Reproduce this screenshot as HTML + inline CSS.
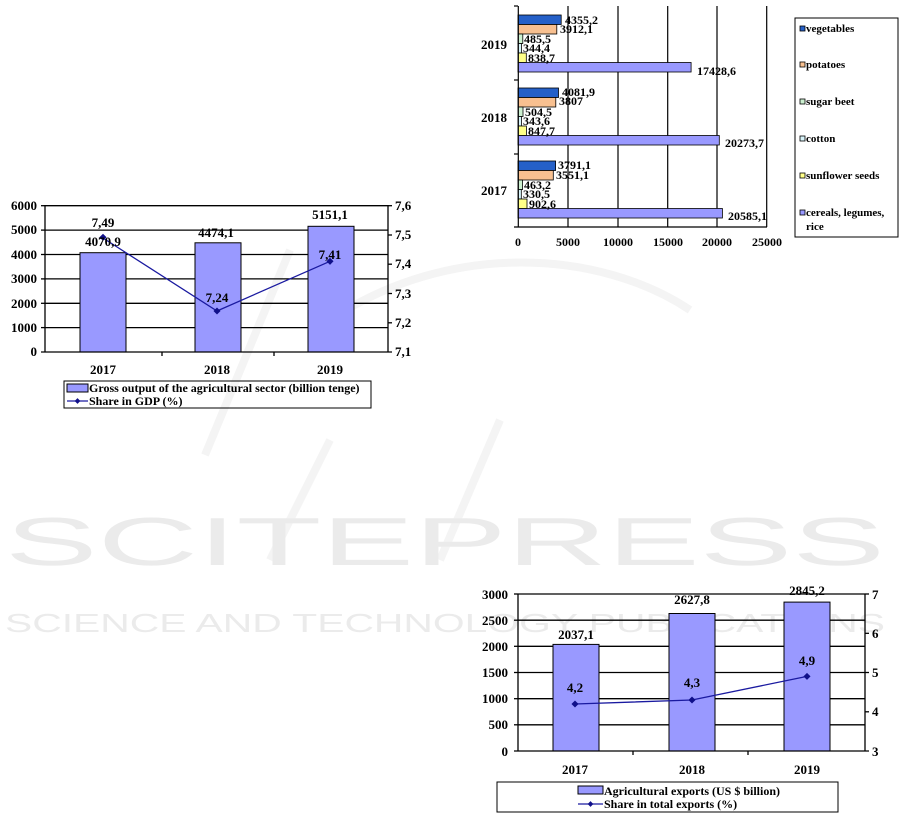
<!DOCTYPE html>
<html><head><meta charset="utf-8"><style>
html,body{margin:0;padding:0;background:#fff;}
svg{display:block;}
text{font-family:"Liberation Serif",serif;font-weight:bold;fill:#000;}
.wm{font-family:"Liberation Sans",sans-serif;font-weight:normal;fill:#ebebeb;}
</style></head><body>
<svg width="901" height="816" viewBox="0 0 901 816" xmlns="http://www.w3.org/2000/svg">
<g>
<path d="M205,455 L290,250 M270,560 L330,440 M500,420 L440,560 M690,310 C600,250 450,240 330,320" stroke="#f4f4f4" stroke-width="8" fill="none"/>
<text class="wm" x="5" y="565" font-size="68" textLength="880" lengthAdjust="spacingAndGlyphs">SCITEPRESS</text>
<text class="wm" x="5" y="632" font-size="26" textLength="880" lengthAdjust="spacingAndGlyphs">SCIENCE AND TECHNOLOGY PUBLICATIONS</text>
</g>

<!-- Chart 1 -->
<g font-size="13">
<g stroke="#000" stroke-width="1.3">
<line x1="45" y1="205.7" x2="388" y2="205.7"/>
<line x1="45" y1="230.1" x2="388" y2="230.1"/>
<line x1="45" y1="254.5" x2="388" y2="254.5"/>
<line x1="45" y1="278.9" x2="388" y2="278.9"/>
<line x1="45" y1="303.3" x2="388" y2="303.3"/>
<line x1="45" y1="327.6" x2="388" y2="327.6"/>
</g>
<g fill="#9999ff" stroke="#000" stroke-width="1">
<rect x="80" y="252.7" width="46" height="99.3"/>
<rect x="195" y="242.8" width="46" height="109.2"/>
<rect x="308" y="226.3" width="46" height="125.7"/>
</g>
<g stroke="#000" stroke-width="1.3">
<line x1="45" y1="205" x2="45" y2="352"/>
<line x1="388" y1="205" x2="388" y2="352"/>
<line x1="41" y1="352" x2="392" y2="352"/>
<line x1="41" y1="205.7" x2="45" y2="205.7"/><line x1="41" y1="230.1" x2="45" y2="230.1"/><line x1="41" y1="254.5" x2="45" y2="254.5"/><line x1="41" y1="278.9" x2="45" y2="278.9"/><line x1="41" y1="303.3" x2="45" y2="303.3"/><line x1="41" y1="327.6" x2="45" y2="327.6"/>
<line x1="388" y1="205.7" x2="392" y2="205.7"/><line x1="388" y1="235" x2="392" y2="235"/><line x1="388" y1="264.2" x2="392" y2="264.2"/><line x1="388" y1="293.5" x2="392" y2="293.5"/><line x1="388" y1="322.8" x2="392" y2="322.8"/>
<line x1="162" y1="352" x2="162" y2="356"/><line x1="274" y1="352" x2="274" y2="356"/>
</g>
<polyline points="103,238 217,311 330,261.3" fill="none" stroke="#1a1aa0" stroke-width="1.3"/>
<g fill="#10108a"><rect x="100" y="235" width="5" height="5" transform="rotate(45 103 238)"/><rect x="214.5" y="308.5" width="5" height="5" transform="rotate(45 217 311)"/><rect x="327.5" y="258.8" width="5" height="5" transform="rotate(45 330 261.3)"/></g>
<g text-anchor="end">
<text x="37" y="210">6000</text><text x="37" y="234">5000</text><text x="37" y="259">4000</text><text x="37" y="283">3000</text><text x="37" y="308">2000</text><text x="37" y="332">1000</text><text x="37" y="356">0</text>
</g>
<text x="395" y="210">7,6</text><text x="395" y="239">7,5</text><text x="395" y="268">7,4</text><text x="395" y="298">7,3</text><text x="395" y="327">7,2</text><text x="395" y="356">7,1</text>
<g text-anchor="middle">
<text x="103" y="227">7,49</text><text x="103" y="246">4070,9</text><text x="216" y="237">4474,1</text><text x="330" y="219">5151,1</text>
<text x="217" y="302">7,24</text><text x="330" y="259">7,41</text>
<text x="103" y="374">2017</text><text x="217" y="374">2018</text><text x="330" y="374">2019</text>
</g>
<rect x="64" y="381" width="307" height="27" fill="none" stroke="#000" stroke-width="1"/>
<rect x="67" y="384" width="21" height="8" fill="#9999ff" stroke="#000" stroke-width="1"/>
<text x="89" y="392" font-size="12">Gross output of the agricultural sector (billion tenge)</text>
<line x1="67" y1="401" x2="88" y2="401" stroke="#1a1aa0" stroke-width="1.3"/>
<rect x="75.5" y="399" width="4" height="4" fill="#10108a" transform="rotate(45 77.5 401)"/>
<text x="89" y="405" font-size="12">Share in GDP (%)</text>
</g>

<!-- Chart 2 -->
<g font-size="12">
<g stroke="#000" stroke-width="1.2">
<line x1="568" y1="6" x2="568" y2="227"/><line x1="618" y1="6" x2="618" y2="227"/><line x1="667.7" y1="6" x2="667.7" y2="227"/><line x1="717" y1="6" x2="717" y2="227"/><line x1="766.7" y1="6" x2="766.7" y2="227"/>
</g>
<g stroke="#000" stroke-width="0.8">
<rect x="518" y="15" width="43.2" height="9.5" fill="#2560c8"/>
<rect x="518" y="24.5" width="38.8" height="9.5" fill="#f8c090"/>
<rect x="518" y="34" width="4.8" height="9.5" fill="#ccf0d0"/>
<rect x="518" y="43.5" width="3.4" height="9.5" fill="#d8f4fa"/>
<rect x="518" y="53" width="8.3" height="9.5" fill="#ffff88"/>
<rect x="518" y="62.5" width="173.1" height="9.5" fill="#9999ff"/>
<rect x="518" y="88" width="40.5" height="9.5" fill="#2560c8"/>
<rect x="518" y="97.5" width="37.8" height="9.5" fill="#f8c090"/>
<rect x="518" y="107" width="5" height="9.5" fill="#ccf0d0"/>
<rect x="518" y="116.5" width="3.4" height="9.5" fill="#d8f4fa"/>
<rect x="518" y="126" width="8.4" height="9.5" fill="#ffff88"/>
<rect x="518" y="135.5" width="201.3" height="9.5" fill="#9999ff"/>
<rect x="518" y="161" width="37.6" height="9.5" fill="#2560c8"/>
<rect x="518" y="170.5" width="35.3" height="9.5" fill="#f8c090"/>
<rect x="518" y="180" width="4.6" height="9.5" fill="#ccf0d0"/>
<rect x="518" y="189.5" width="3.3" height="9.5" fill="#d8f4fa"/>
<rect x="518" y="199" width="9" height="9.5" fill="#ffff88"/>
<rect x="518" y="208.5" width="204.4" height="9.5" fill="#9999ff"/>
</g>
<g stroke="#000" stroke-width="1.2">
<line x1="518.3" y1="6" x2="518.3" y2="227"/>
<line x1="514" y1="227" x2="767" y2="227"/>
<line x1="514" y1="6" x2="518" y2="6"/><line x1="514" y1="80" x2="518" y2="80"/><line x1="514" y1="154" x2="518" y2="154"/>
</g>
<g>
<text x="565" y="24">4355,2</text><text x="560" y="33">3912,1</text><text x="524" y="43">485,5</text><text x="523" y="52">344,4</text><text x="528" y="62">838,7</text><text x="697" y="75">17428,6</text>
<text x="562" y="96">4081,9</text><text x="559" y="105">3807</text><text x="525" y="116">504,5</text><text x="523" y="125">343,6</text><text x="528" y="135">847,7</text><text x="725" y="147">20273,7</text>
<text x="558" y="169">3791,1</text><text x="556" y="179">3551,1</text><text x="524" y="189">463,2</text><text x="523" y="198">330,5</text><text x="529" y="208">902,6</text><text x="728" y="220">20585,1</text>
</g>
<g text-anchor="end" font-size="13"><text x="507" y="49">2019</text><text x="507" y="122">2018</text><text x="507" y="195">2017</text></g>
<g text-anchor="middle"><text x="518" y="246">0</text><text x="568" y="246">5000</text><text x="618" y="246">10000</text><text x="668" y="246">15000</text><text x="717" y="246">20000</text><text x="767" y="246">25000</text></g>
<rect x="795" y="18" width="103" height="219" fill="none" stroke="#000" stroke-width="1"/>
<g stroke="#000" stroke-width="0.8">
<rect x="800" y="26" width="5" height="5" fill="#2560c8"/>
<rect x="800" y="62" width="5" height="5" fill="#f8c090"/>
<rect x="800" y="99" width="5" height="5" fill="#ccf0d0"/>
<rect x="800" y="136" width="5" height="5" fill="#d8f4fa"/>
<rect x="800" y="173" width="5" height="5" fill="#ffff88"/>
<rect x="800" y="210" width="5" height="5" fill="#9999ff"/>
</g>
<g font-size="11"><text x="806" y="32">vegetables</text><text x="806" y="68">potatoes</text><text x="806" y="105">sugar beet</text><text x="806" y="142">cotton</text><text x="806" y="179">sunflower seeds</text><text x="806" y="216">cereals, legumes,</text><text x="806" y="230">rice</text></g>
</g>

<!-- Chart 3 -->
<g font-size="13">
<g stroke="#000" stroke-width="1.3">
<line x1="518" y1="594" x2="865" y2="594"/>
<line x1="518" y1="620.2" x2="865" y2="620.2"/>
<line x1="518" y1="646.3" x2="865" y2="646.3"/>
<line x1="518" y1="672.5" x2="865" y2="672.5"/>
<line x1="518" y1="698.7" x2="865" y2="698.7"/>
<line x1="518" y1="724.8" x2="865" y2="724.8"/>
</g>
<g fill="#9999ff" stroke="#000" stroke-width="1">
<rect x="553" y="644.4" width="46" height="106.6"/>
<rect x="669" y="613.5" width="46" height="137.5"/>
<rect x="784" y="602.1" width="46" height="148.9"/>
</g>
<g stroke="#000" stroke-width="1.3">
<line x1="518" y1="594" x2="518" y2="751"/>
<line x1="865" y1="594" x2="865" y2="751"/>
<line x1="514" y1="751" x2="869" y2="751"/>
<line x1="514" y1="594" x2="518" y2="594"/><line x1="514" y1="620.2" x2="518" y2="620.2"/><line x1="514" y1="646.3" x2="518" y2="646.3"/><line x1="514" y1="672.5" x2="518" y2="672.5"/><line x1="514" y1="698.7" x2="518" y2="698.7"/><line x1="514" y1="724.8" x2="518" y2="724.8"/>
<line x1="865" y1="594" x2="869" y2="594"/><line x1="865" y1="633.3" x2="869" y2="633.3"/><line x1="865" y1="672.5" x2="869" y2="672.5"/><line x1="865" y1="711.8" x2="869" y2="711.8"/>
<line x1="633" y1="751" x2="633" y2="755"/><line x1="748" y1="751" x2="748" y2="755"/>
</g>
<polyline points="575,704 692,700 807,676.4" fill="none" stroke="#1a1aa0" stroke-width="1.3"/>
<g fill="#10108a"><rect x="572.5" y="701.5" width="5" height="5" transform="rotate(45 575 704)"/><rect x="689.5" y="697.5" width="5" height="5" transform="rotate(45 692 700)"/><rect x="804.5" y="673.9" width="5" height="5" transform="rotate(45 807 676.4)"/></g>
<g text-anchor="end">
<text x="508" y="599">3000</text><text x="508" y="625">2500</text><text x="508" y="651">2000</text><text x="508" y="677">1500</text><text x="508" y="703">1000</text><text x="508" y="729">500</text><text x="508" y="756">0</text>
</g>
<text x="872" y="599">7</text><text x="872" y="638">6</text><text x="872" y="677">5</text><text x="872" y="716">4</text><text x="872" y="756">3</text>
<g text-anchor="middle">
<text x="576" y="639">2037,1</text><text x="692" y="604">2627,8</text><text x="807" y="595">2845,2</text>
<text x="575" y="692">4,2</text><text x="692" y="687">4,3</text><text x="807" y="665">4,9</text>
<text x="575" y="774">2017</text><text x="692" y="774">2018</text><text x="807" y="774">2019</text>
</g>
<rect x="497" y="782" width="341" height="30" fill="none" stroke="#000" stroke-width="1"/>
<rect x="578" y="786" width="25" height="8" fill="#9999ff" stroke="#000" stroke-width="1"/>
<text x="604" y="795" font-size="12">Agricultural exports (US $ billion)</text>
<line x1="578" y1="804" x2="603" y2="804" stroke="#1a1aa0" stroke-width="1.3"/>
<rect x="588.5" y="802" width="4" height="4" fill="#10108a" transform="rotate(45 590.5 804)"/>
<text x="604" y="808" font-size="12">Share in total exports (%)</text>
</g>
</svg>
</body></html>
